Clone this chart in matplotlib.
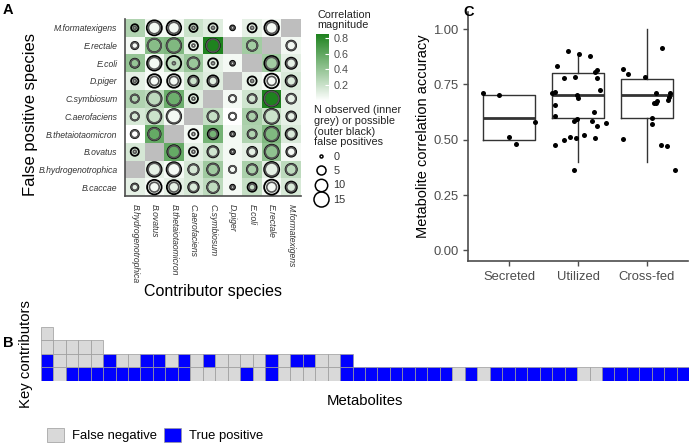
import numpy as np
import matplotlib
matplotlib.use("Agg")
import matplotlib.pyplot as plt
from matplotlib.colors import LinearSegmentedColormap
from matplotlib.lines import Line2D
from matplotlib.patches import Patch

plt.rcParams["font.family"] = "Liberation Sans"

# --- Panel A data (rows listed top to bottom) ---
fp_species = ["M.formatexigens", "E.rectale", "E.coli", "D.piger", "C.symbiosum",
              "C.aerofaciens", "B.thetaiotaomicron", "B.ovatus",
              "B.hydrogenotrophica", "B.caccae"]
contrib_species = ["B.hydrogenotrophica", "B.ovatus", "B.thetaiotaomicron",
                   "C.aerofaciens", "C.symbiosum", "D.piger", "E.coli",
                   "E.rectale", "M.formatexigens"]
nan = np.nan
corr_mag = np.array([
    [0.30, 0.05, 0.05, 0.20, 0.12, 0.00, 0.10, 0.04, nan],
    [0.04, 0.45, 0.48, 0.10, 0.85, nan, 0.35, nan, 0.05],
    [0.40, 0.04, 0.25, 0.38, 0.10, 0.04, nan, 0.35, 0.10],
    [0.10, 0.03, 0.04, 0.20, 0.12, nan, 0.08, 0.03, 0.14],
    [0.30, 0.25, 0.55, 0.12, nan, 0.04, 0.18, 0.85, 0.10],
    [0.15, 0.20, 0.04, nan, 0.22, 0.00, 0.32, 0.20, 0.10],
    [0.00, 0.58, nan, 0.04, 0.52, 0.04, 0.30, 0.48, 0.14],
    [0.16, nan, 0.58, 0.10, 0.18, 0.04, 0.10, 0.42, 0.04],
    [nan, 0.10, 0.04, 0.16, 0.36, 0.04, 0.32, 0.10, 0.25],
    [0.10, 0.04, 0.10, 0.15, 0.25, 0.04, 0.22, 0.04, 0.15],
])
n_possible = np.array([
    [3, 15, 14, 4, 5, 1, 5, 14, nan],
    [3, 12, 14, 5, 12, nan, 7, nan, 6],
    [5, 14, 14, 9, 6, 1, nan, 14, 8],
    [3, 12, 12, 7, 8, nan, 5, 14, 8],
    [4, 14, 13, 5, nan, 3, 5, 15, 6],
    [4, 13, 14, nan, 8, 3, 6, 15, 6],
    [4, 10, nan, 6, 7, 1, 5, 14, 8],
    [4, nan, 11, 5, 8, 1, 6, 13, 6],
    [nan, 14, 14, 7, 9, 3, 7, 15, 8],
    [3, 14, 13, 7, 9, 1, 5, 15, 8],
])
n_observed = np.array([
    [0, 9, 8, 0, 0, 0, 0, 8, nan],
    [2, 12, 13, 0, 11, nan, 7, nan, 5],
    [4, 9, 0, 8, 0, 0, nan, 9, 5],
    [0, 5, 5, 4, 4, nan, 0, 5, 5],
    [4, 12, 12, 0, nan, 3, 4, 14, 5],
    [4, 11, 12, nan, 7, 3, 5, 13, 4],
    [3, 9, nan, 0, 4, 0, 4, 12, 5],
    [0, nan, 9, 0, 6, 0, 4, 11, 4],
    [nan, 10, 10, 6, 8, 3, 6, 11, 7],
    [2, 6, 6, 5, 8, 0, 2, 6, 5],
])
size_breaks = [0, 5, 10, 15]

# --- Panel C data ---
categories = ["Secreted", "Utilized", "Cross-fed"]
secreted_acc = [0.71, 0.70, 0.58, 0.51, 0.48]
secreted_jit = [-0.38, -0.15, 0.38, -0.01, 0.10]
utilized_acc = [0.90, 0.886, 0.88, 0.833, 0.814, 0.808, 0.781, 0.784, 0.781,
                0.709, 0.716, 0.703, 0.688, 0.724, 0.658, 0.608, 0.623, 0.586,
                0.592, 0.583, 0.563, 0.574, 0.523, 0.51, 0.508, 0.508, 0.499,
                0.475, 0.364]
utilized_jit = [-0.14, 0.01, 0.17, -0.30, 0.27, 0.25, -0.21, -0.04, 0.28,
                -0.38, -0.33, -0.02, 0.00, 0.32, -0.33, -0.33, 0.23, -0.06,
                -0.01, 0.21, 0.28, 0.40, 0.08, -0.11, -0.03, 0.25, -0.20,
                -0.34, -0.06]
crossfed_acc = [0.913, 0.821, 0.799, 0.782, 0.709, 0.709, 0.691, 0.679, 0.676,
                0.668, 0.664, 0.596, 0.571, 0.502, 0.475, 0.472, 0.365]
crossfed_jit = [0.22, -0.34, -0.28, -0.02, 0.13, 0.34, 0.33, 0.31, 0.15,
                0.13, 0.11, 0.08, 0.08, -0.35, 0.21, 0.29, 0.41]
box_q1 = [0.50, 0.60, 0.60]
box_med = [0.60, 0.70, 0.70]
box_q3 = [0.70, 0.80, 0.775]
box_lo = [0.50, 0.40, 0.40]
box_hi = [0.70, 0.89, 1.00]

# --- Panel B data: T = true positive, F = false negative, stacked from bottom ---
contrib_level0 = "TFTTTTTTTTTT" "FFFF" "T" "F" "T" "FFFFF" "T" "TTTTTTTT" "F" "T" "F" "TTTTTTT" "FF" "TTTTTTT"
contrib_level1 = "TFFFFTFFTTFTFTFFFFTFTTFFT"
contrib_level2 = "FFFFF"
contrib_level3 = "F"

W, H = 691, 443
fig = plt.figure(figsize=(W / 100, H / 100), dpi=100)


def fx(px):
    return px / W


def fy(py):
    return 1 - py / H


def circ_size(n):
    # area-style size scale, marker area in pt^2
    return 0.5184 * (9 + 14.5 * np.asarray(n, dtype=float))


dark = "#4d4d4d"

# ---------------- Panel A ----------------
axA = fig.add_axes([fx(125), fy(196), fx(176), 177 / H])
cmap = LinearSegmentedColormap.from_list("wg", ["#ffffff", "#1e821e"])
cmap.set_bad("#bebebe")
nr, nc = corr_mag.shape
mesh = axA.pcolormesh(np.arange(nc + 1) - 0.5, np.arange(nr + 1) - 0.5,
                      np.ma.masked_invalid(corr_mag[::-1]), cmap=cmap,
                      vmin=0, vmax=np.nanmax(corr_mag))
X, Y = np.meshgrid(np.arange(nc), nr - 1 - np.arange(nr))
ok = ~np.isnan(n_possible)
axA.scatter(X[ok], Y[ok], s=circ_size(n_possible[ok]), facecolors="none",
            edgecolors="black", linewidths=1.3, zorder=3)
axA.scatter(X[ok], Y[ok], s=circ_size(n_observed[ok]), facecolors="none",
            edgecolors="#555555", linewidths=1.2, zorder=4)
axA.set_xlim(-0.5, nc - 0.5)
axA.set_ylim(-0.5, nr - 0.5)
axA.set_yticks(np.arange(nr), fp_species[::-1], fontsize=6.2, style="italic", color="#333333")
axA.set_xticks(np.arange(nc), contrib_species, fontsize=6.2, style="italic",
               rotation=270, color="#333333")
axA.tick_params(length=0, pad=5.5)
axA.tick_params(axis="x", pad=6)
for s in ["top", "right"]:
    axA.spines[s].set_visible(False)
for s in ["left", "bottom"]:
    axA.spines[s].set_color(dark)
    axA.spines[s].set_linewidth(1.2)
axA.set_ylabel("False positive species", fontsize=12)
axA.yaxis.set_label_coords(-0.494, 0.458)
axA.set_xlabel("Contributor species", fontsize=11.5)
axA.xaxis.set_label_coords(0.5, -0.497)

# colour bar
cax = fig.add_axes([fx(316), fy(101), fx(13), 67 / H])
cb = fig.colorbar(mesh, cax=cax, ticks=[0.2, 0.4, 0.6, 0.8])
cb.outline.set_visible(False)
cax.tick_params(direction="in", color="white", length=3, width=0.8,
                labelsize=7.8, labelcolor="#4d4d4d", pad=3)
fig.text(fx(317), fy(10), "Correlation\nmagnitude", fontsize=7.8, va="top",
         linespacing=1.05, color="#222222")

# size legend
size_handles = [Line2D([], [], ls="", marker="o", markerfacecolor="none",
                       markeredgecolor="black", markeredgewidth=1.1,
                       markersize=np.sqrt(circ_size(b))) for b in size_breaks]
leg = fig.legend(size_handles, [str(b) for b in size_breaks],
                 title="N observed (inner\ngrey) or possible\n(outer black)\nfalse positives",
                 loc="upper left", bbox_to_anchor=(fx(314), fy(105)), frameon=False,
                 fontsize=7.8, title_fontsize=7.8, alignment="left", borderpad=0,
                 borderaxespad=0, labelspacing=0.4, handletextpad=0.5,
                 handlelength=1.3)
leg.get_title().set_linespacing(1.1)
leg.get_title().set_color("#222222")
for t in leg.get_texts():
    t.set_color("#333333")

# ---------------- Panel C ----------------
axC = fig.add_axes([fx(468), fy(261), fx(220), 249 / H])
stats = [dict(med=m, q1=a, q3=b, whislo=lo, whishi=hi, fliers=[])
         for m, a, b, lo, hi in zip(box_med, box_q1, box_q3, box_lo, box_hi)]
line_kw = dict(color="#333333", linewidth=1.0)
axC.bxp(stats, positions=[1, 2, 3], widths=0.75, showcaps=False, showfliers=False,
        boxprops=line_kw, whiskerprops=line_kw,
        medianprops=dict(color="#333333", linewidth=2.0))
for pos, acc, jit in zip([1, 2, 3], [secreted_acc, utilized_acc, crossfed_acc],
                         [secreted_jit, utilized_jit, crossfed_jit]):
    axC.scatter(pos + np.asarray(jit), acc, s=13, color="black", zorder=5,
                linewidths=0)
axC.set_xlim(0.4, 3.6)
axC.set_ylim(-0.048, 1.077)
axC.set_xticks([1, 2, 3], categories)
axC.set_yticks([0, 0.25, 0.5, 0.75, 1.0], ["0.00", "0.25", "0.50", "0.75", "1.00"])
axC.tick_params(labelsize=9.4, labelcolor="#4d4d4d", color="#4d4d4d",
                length=3.5, width=1)
for s in ["top", "right"]:
    axC.spines[s].set_visible(False)
for s in ["left", "bottom"]:
    axC.spines[s].set_color(dark)
    axC.spines[s].set_linewidth(1.2)
axC.set_ylabel("Metabolite correlation accuracy", fontsize=10.5)
axC.yaxis.set_label_coords(-0.173, 0.5)

# ---------------- Panel B ----------------
axB = fig.add_axes([fx(40.7), fy(380.5), fx(648.6), 53.5 / H])
blue, grey = "#0000ff", "#d9d9d9"
for lvl, row in enumerate([contrib_level0, contrib_level1, contrib_level2, contrib_level3]):
    cols = [blue if c == "T" else grey for c in row]
    axB.bar(np.arange(len(row)), 1, bottom=lvl, width=1, align="edge",
            color=cols, edgecolor="#9a9a9a", linewidth=0.5)
axB.set_xlim(0, len(contrib_level0))
axB.set_ylim(0, 4)
axB.set_xticks([])
axB.set_yticks([])
for s in axB.spines.values():
    s.set_visible(False)
axB.set_ylabel("Key contributors", fontsize=10.7)
axB.yaxis.set_label_coords(-0.012, 0.5)
axB.set_xlabel("Metabolites", fontsize=10.7)
axB.xaxis.set_label_coords(0.5, -0.25)

fig.legend([Patch(facecolor=grey, edgecolor="#9a9a9a", linewidth=0.5),
            Patch(facecolor=blue, edgecolor="#9a9a9a", linewidth=0.5)],
           ["False negative", "True positive"], loc="lower left",
           bbox_to_anchor=(fx(47), fy(442)), ncol=2, frameon=False, fontsize=9.4,
           borderpad=0, borderaxespad=0, handlelength=1.3, handleheight=1.25,
           handletextpad=0.6, columnspacing=0.55)

# panel letters
for lab, x, y in [("A", 3, 3), ("B", 3, 336), ("C", 463, 5)]:
    fig.text(fx(x), fy(y), lab, fontsize=10.5, fontweight="bold", va="top")

fig.savefig("out.png", dpi=100)
